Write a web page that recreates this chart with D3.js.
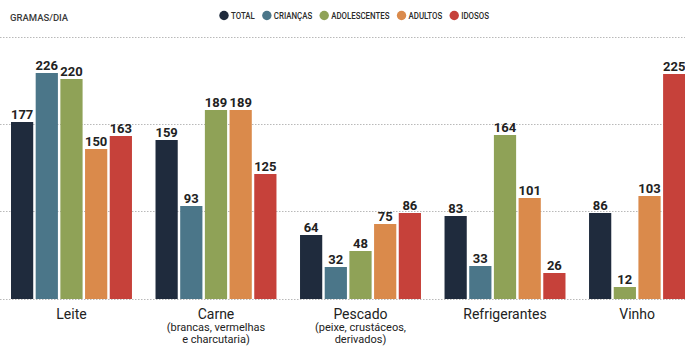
<!DOCTYPE html>
<html>
<head>
<meta charset="utf-8">
<script src="https://cdn.jsdelivr.net/npm/d3@7"></script>
<style>
  html, body { margin: 0; padding: 0; background: #ffffff; }
  svg { display: block; font-family: Roboto, "Open Sans", sans-serif; }
</style>
</head>
<body>
<svg id="chart" width="685" height="348"></svg>
<script>
// Consumo diário por grupo etário (gramas/dia)
const categories = ["Leite", "Carne", "Pescado", "Refrigerantes", "Vinho"];
const subLabels = [
  [],
  ["(brancas, vermelhas", "e charcutaria)"],
  ["(peixe, crustáceos,", "derivados)"],
  [],
  []
];
const seriesNames = ["TOTAL", "CRIANÇAS", "ADOLESCENTES", "ADULTOS", "IDOSOS"];
const seriesColors = ["#1f2b3d", "#4b7689", "#8fa257", "#da8a4b", "#c6413a"];

// values per series, in category order (null = no bar)
const total        = [177, 159, 64, 83, 86];
const criancas     = [226, 93, 32, 33, null];
const adolescentes = [220, 189, 48, 164, 12];
const adultos      = [150, 189, 75, 101, 103];
const idosos       = [163, 125, 86, 26, 225];
const seriesValues = [total, criancas, adolescentes, adultos, idosos];

const gridValues = [0, 88, 175, 262];

const svg = d3.select("#chart");
const W = 685;

const y = d3.scaleLinear().domain([0, 262]).range([299, 37]);

const x0 = d3.scaleBand()
  .domain(categories)
  .range([11, 710])
  .paddingInner(0.163)
  .paddingOuter(0);

const x1 = d3.scaleBand()
  .domain(d3.range(seriesNames.length))
  .range([0, x0.bandwidth()])
  .paddingInner(0.1)
  .paddingOuter(0);

// dotted guide lines
svg.append("g").selectAll("line")
  .data(gridValues)
  .join("line")
  .attr("x1", 0).attr("x2", W)
  .attr("y1", d => y(d) + 0.5).attr("y2", d => y(d) + 0.5)
  .attr("stroke", "#b9b9b9")
  .attr("stroke-width", 1)
  .attr("stroke-dasharray", "1.5,1.5");

// bars: each group packs only the series that have a value
const groups = svg.append("g").selectAll("g")
  .data(categories)
  .join("g")
  .attr("transform", c => `translate(${x0(c)},0)`);

groups.each(function (c, ci) {
  const items = seriesValues
    .map((vals, si) => ({ si, v: vals[ci] }))
    .filter(d => d.v != null)
    .map((d, k) => ({ ...d, k }));
  const g = d3.select(this);
  g.selectAll("rect")
    .data(items)
    .join("rect")
    .attr("x", d => x1(d.k))
    .attr("width", x1.bandwidth())
    .attr("y", d => y(d.v))
    .attr("height", d => y(0) - y(d.v))
    .attr("fill", d => seriesColors[d.si]);
  g.selectAll("text.val")
    .data(items)
    .join("text")
    .attr("class", "val")
    .attr("x", d => x1(d.k) + x1.bandwidth() / 2)
    .attr("y", d => y(d.v) - 3)
    .attr("text-anchor", "middle")
    .attr("font-size", 13)
    .attr("font-weight", 700)
    .attr("fill", "#222")
    .text(d => d.v);
  const w = items.length * x1.step() - (x1.step() - x1.bandwidth());
  const label = g.append("text")
    .attr("text-anchor", "middle")
    .attr("fill", "#222");
  label.append("tspan")
    .attr("x", w / 2).attr("y", 319)
    .attr("font-size", 14)
    .text(c);
  subLabels[ci].forEach((s, i) => {
    label.append("tspan")
      .attr("x", w / 2).attr("y", 331 + i * 11.5)
      .attr("font-size", 11)
      .text(s);
  });
});

// unit
svg.append("text")
  .attr("x", 10).attr("y", 21)
  .attr("font-size", 9.5)
  .attr("font-weight", 500)
  .attr("fill", "#3a3a3a")
  .text("GRAMAS/DIA");

// legend (condensed caps)
const sx = 0.83;
const legend = svg.append("g");
let lx = 224;
seriesNames.forEach((name, i) => {
  legend.append("circle")
    .attr("cx", lx).attr("cy", 15.5).attr("r", 4.7)
    .attr("fill", seriesColors[i]);
  const t = legend.append("text")
    .attr("x", lx + 7).attr("y", 19)
    .attr("font-size", 9.5)
    .attr("font-weight", 500)
    .attr("fill", "#2a2a2a")
    .attr("transform", `translate(${(lx + 7) * (1 - sx)},0) scale(${sx},1)`)
    .text(name);
  const len = t.node().getComputedTextLength() * sx;
  lx = lx + 7 + len + 12;
});
</script>
</body>
</html>
